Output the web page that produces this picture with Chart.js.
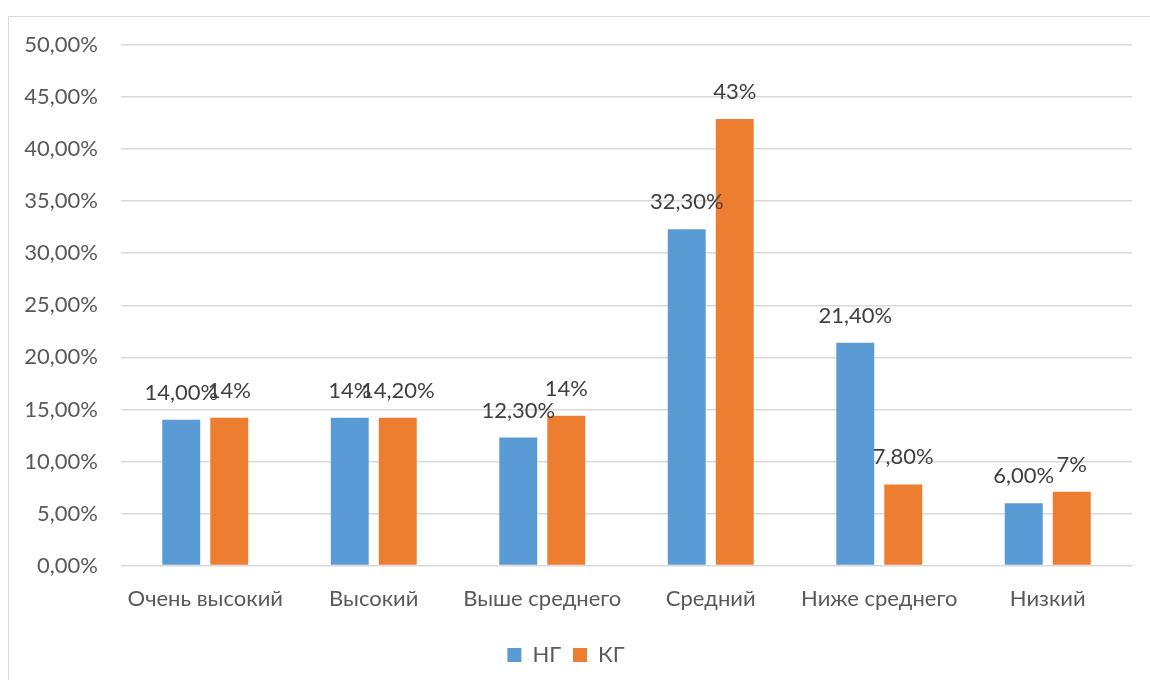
<!DOCTYPE html>
<html lang="ru">
<head>
  <meta charset="UTF-8">
  <title>НГ / КГ</title>
  <style>
    body {
      margin: 0;
      width: 1150px;
      height: 680px;
      overflow: hidden;
      background: #fff;
      position: relative;
    }
    #frame {
      position: absolute;
      left: 8px;
      top: 16px;
      width: 1200px;
      height: 700px;
      border: 1px solid #d9d9d9;
    }
    #wrap {
      position: absolute;
      left: 0;
      top: 0;
      width: 1150px;
      height: 680px;
    }
  </style>
</head>
<body>
  <div id="frame"></div>
  <div id="wrap"><canvas id="chart"></canvas></div>

  <script src="https://cdn.jsdelivr.net/npm/chart.js"></script>
  <script>
    const categories = ['Очень высокий', 'Высокий', 'Выше среднего', 'Средний', 'Ниже среднего', 'Низкий'];
    const valuesNG = [14.0, 14.2, 12.3, 32.3, 21.4, 6.0];
    const valuesKG = [14.2, 14.2, 14.4, 42.9, 7.8, 7.1];
    // data labels exactly as printed on the chart
    const labelsNG = ['14,00%', '14%', '12,30%', '32,30%', '21,40%', '6,00%'];
    const labelsKG = ['14%', '14,20%', '14%', '43%', '7,80%', '7%'];

    const textColor = '#595959';
    const fontFamily = 'Lato, "Open Sans", sans-serif';

    // draws the value labels above each bar
    const barLabels = {
      id: 'barLabels',
      afterDatasetsDraw(chart) {
        const ctx = chart.ctx;
        ctx.save();
        ctx.font = '22px ' + fontFamily;
        ctx.fillStyle = '#404040';
        ctx.textAlign = 'center';
        ctx.textBaseline = 'middle';
        chart.data.datasets.forEach((ds, i) => {
          const meta = chart.getDatasetMeta(i);
          meta.data.forEach((bar, j) => {
            ctx.fillText(ds.valueLabels[j], bar.x, bar.y - 27);
          });
        });
        ctx.restore();
      }
    };

    new Chart(document.getElementById('chart'), {
      type: 'bar',
      data: {
        labels: categories,
        datasets: [
          { label: 'НГ', data: valuesNG, valueLabels: labelsNG, backgroundColor: '#5B9BD5',
            barPercentage: 0.79, categoryPercentage: 0.57 },
          { label: 'КГ', data: valuesKG, valueLabels: labelsKG, backgroundColor: '#ED7D31',
            barPercentage: 0.79, categoryPercentage: 0.57 }
        ]
      },
      options: {
        responsive: true,
        maintainAspectRatio: false,
        animation: false,
        layout: { padding: { top: 45, right: 18, bottom: 4, left: 0 } },
        plugins: {
          legend: {
            position: 'bottom',
            labels: {
              boxWidth: 14,
              boxHeight: 14,
              padding: 12,
              color: textColor,
              font: { family: fontFamily, size: 22 }
            }
          },
          tooltip: { enabled: false }
        },
        scales: {
          x: {
            grid: { display: false, drawTicks: false },
            border: { color: '#d9d9d9', width: 1 },
            ticks: {
              color: textColor,
              padding: 20,
              font: { family: fontFamily, size: 22 },
              maxRotation: 0
            }
          },
          y: {
            min: 0,
            max: 50,
            afterFit(scale) { scale.width = 121; },
            grid: { color: '#d9d9d9', lineWidth: 1.5, drawTicks: false },
            border: { display: false },
            ticks: {
              stepSize: 5,
              padding: 23,
              color: textColor,
              font: { family: fontFamily, size: 22 },
              callback: v => v.toFixed(2).replace('.', ',') + '%'
            }
          }
        }
      },
      plugins: [barLabels]
    });
  </script>
</body>
</html>
